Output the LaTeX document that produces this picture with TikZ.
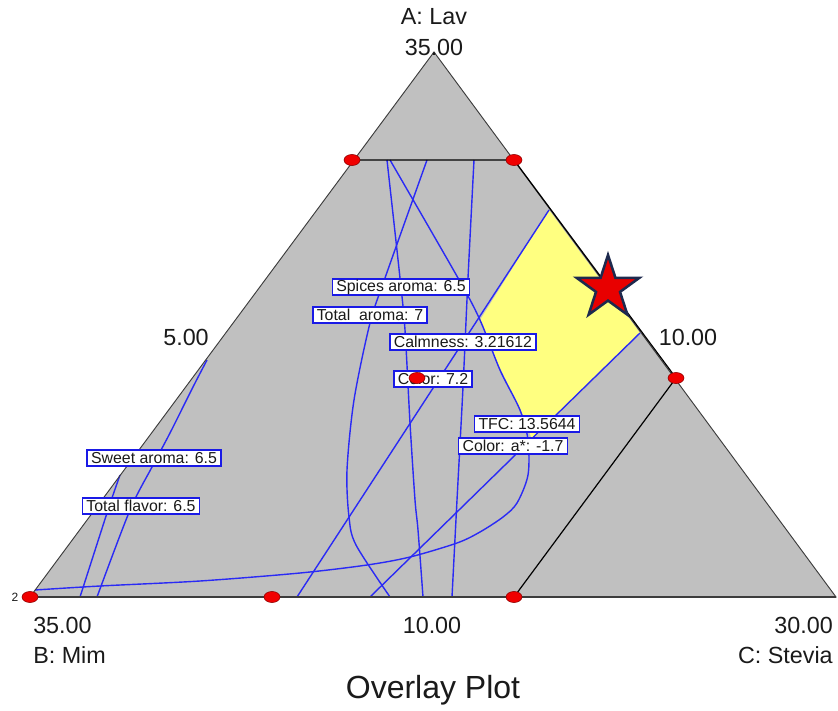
\documentclass[tikz,border=0pt]{standalone}
\usepackage{fontspec}
\setmainfont{Liberation Sans}
\definecolor{plotgray}{HTML}{C0C0C0}
\definecolor{regyellow}{HTML}{FFFF80}
\definecolor{cblue}{HTML}{2A2AF5}
\definecolor{lblue}{HTML}{1A1AE6}
\definecolor{edgegray}{HTML}{3C3C3C}
\definecolor{dotred}{HTML}{F00000}
\definecolor{starred}{HTML}{E80000}
\definecolor{starnavy}{HTML}{1E2A4E}
\definecolor{txt}{HTML}{1A1A1A}
\tikzset{
  contour/.style={draw=cblue, line width=1.05pt},
  lbl/.style={draw=lblue, fill=white, line width=1.2pt, inner xsep=3pt, inner ysep=0pt,
    minimum height=12pt, text=txt, font=\fontsize{11.9}{12}\selectfont},
  axtxt/.style={text=txt, font=\fontsize{17.5}{19}\selectfont, inner sep=0pt},
  rdot/.style={ellipse, fill=dotred, draw=red!55!black, line width=0.4pt,
    minimum width=12pt, minimum height=8.3pt, inner sep=0pt},
}
\usetikzlibrary{shapes.geometric}
\begin{document}
\begin{tikzpicture}[x=0.75pt,y=-0.75pt]
\useasboundingbox (0,0) rectangle (838,710);
\coordinate (A) at (434,52);
\coordinate (B) at (30,597);
\coordinate (C) at (836,597);
\coordinate (p1) at (352,160);
\coordinate (p2) at (514,160);
\coordinate (p3) at (676,378);
\coordinate (p4) at (514,597);
\coordinate (p5) at (272,597);
% gray simplex
\fill[plotgray] (A) -- (B) -- (C) -- cycle;
% yellow feasible region
\fill[regyellow] (549,210) -- (640,333) -- (532,440) -- (528,428) -- (520,408)
   -- (500,368) -- (480,320) -- cycle;
% contours
\draw[contour] plot[smooth, tension=0.5] coordinates {(390,160) (458,278) (480,320) (500,370) (520,410) (528,440) (528,475) (517,503) (503,517) (480,532) (457,543) (410,557) (367,565) (300,573) (200,581) (100,586) (35,590)};
\draw[contour] plot[smooth, tension=0.5] coordinates {(427,160) (385,278) (370,323) (354,400) (347,470) (349,517) (356,545) (390,597)};
\draw[contour] plot[smooth, tension=0.5] coordinates {(387,160) (400,278) (405,330) (410,423) (415,500) (418,530) (423,597)};
\draw[contour] plot[smooth, tension=0.5] coordinates {(474,160) (468,278) (463,387) (457,500) (452,597)};
\draw[contour] (549,210) -- (297,597);
\draw[contour] (640,333) -- (370,597);
\draw[contour] plot[smooth, tension=0.5] coordinates {(207,360) (193,387) (170,433) (152,467) (130,510) (97,597)};
\draw[contour] plot[smooth, tension=0.5] coordinates {(120,475) (113,495) (107,513) (80,597)};
% edges
\draw[edgegray, line width=0.7pt] (A) -- (B) -- (C) -- cycle;
\draw[edgegray, line width=1.4pt] (B) -- (C);
\draw[black, line width=0.9pt] (p1) -- (p2) -- (p3) -- (p4);
% labels
\node[lbl] (lsp) at (401,287) {Spices aroma: 6.5};
\node[lbl] (lta) at (370,315) {Total\ \ aroma: 7};
\node[lbl] (lca) at (463,342) {Calmness: 3.21612};
\node[lbl] (lco) at (433,379) {Color: 7.2};
\node[lbl] (ltf) at (527,424) {TFC: 13.5644};
\node[lbl] (lcl) at (513,446) {Color: a*: -1.7};
\node[lbl] (lsw) at (154,458) {Sweet aroma: 6.5};
\node[lbl] (ltl) at (141,506) {Total flavor: 6.5};
% design points
\node[rdot] (d1) at (p1) {};
\node[rdot] (d2) at (p2) {};
\node[rdot] (d3) at (p3) {};
\node[rdot] (d4) at (p4) {};
\node[rdot] (d5) at (p5) {};
\node[rdot] (d6) at (B) {};
\node[rdot] (d7) at (417,378) {};
% star
\draw[fill=starred, draw=starnavy, line width=1.9pt, line join=miter]
  (608,255) -- (615.4,277.8) -- (639.4,277.8) -- (620.0,291.9) -- (627.4,314.7)
  -- (608,300.6) -- (588.6,314.7) -- (596.0,291.9) -- (576.6,277.8) -- (600.6,277.8) -- cycle;
% axis texts
\node[axtxt] (tA) at (434,17) {A: Lav};
\node[axtxt] (tA1) at (434,47) {35.00};
\node[axtxt] (tL) at (186,337) {5.00};
\node[axtxt] (tR) at (688,337) {10.00};
\node[axtxt, anchor=west] (tB1) at (33,625) {35.00};
\node[axtxt, anchor=west] (tB) at (33,655) {B: Mim};
\node[axtxt] (tM) at (432,625) {10.00};
\node[axtxt, anchor=east] (tC1) at (833,625) {30.00};
\node[axtxt, anchor=east] (tC) at (833,655) {C: Stevia};
\node[text=txt, font=\fontsize{9}{10}\selectfont, inner sep=0pt] (t2) at (15,597) {2};
\node[text=txt, font=\fontsize{24}{26}\selectfont, inner sep=0pt] (title) at (433,690) {Overlay Plot};
\end{tikzpicture}
\end{document}
